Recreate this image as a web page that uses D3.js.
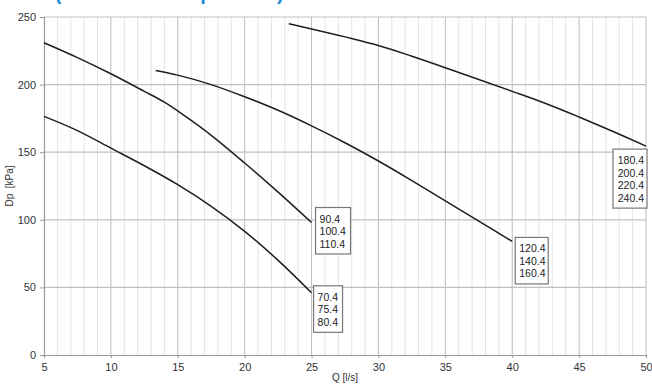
<!DOCTYPE html>
<html><head><meta charset="utf-8">
<script src="https://cdn.jsdelivr.net/npm/d3@7"></script>
<style>
html,body{margin:0;padding:0;background:#fff;}
svg{display:block;font-family:"Liberation Sans",Arial,sans-serif;}
</style></head>
<body>
<svg id="c" width="652" height="385"></svg>
<script>
// ---- data ----
const titleText = "UTN (Prevalenza disponibile)";
const xTicks = [5,10,15,20,25,30,35,40,45,50];
const yTicks = [0,50,100,150,200,250];
const xLabel = "Q [l/s]";
const yLabel = "Dp  [kPa]";

const curveA_Q  = [5, 7.5, 10, 12.5, 15, 17.5, 20, 22.5, 25];
const curveA_Dp = [176.5, 166, 153, 140, 126, 110, 91.5, 70, 46];
const curveA_labels = ["70.4","75.4","80.4"];

const curveB_Q  = [5, 7.5, 10, 12.5, 14, 15.5, 17.5, 20, 22.5, 25];
const curveB_Dp = [231, 220, 208, 195, 187, 177, 162.5, 142, 120.5, 98];
const curveB_labels = ["90.4","100.4","110.4"];

const curveC_Q  = [13.35, 15, 17.5, 20, 22.5, 25, 27.5, 30, 32.5, 35, 37.5, 40];
const curveC_Dp = [210.5, 207, 200, 191, 181, 169.5, 157, 143.5, 129, 114, 99, 84];
const curveC_labels = ["120.4","140.4","160.4"];

const curveD_Q  = [23.3, 25, 27.5, 30, 32.5, 35, 37.5, 40, 42.5, 45, 47.5, 50];
const curveD_Dp = [245, 241.2, 235.3, 228.9, 221, 212.5, 203.8, 195, 186, 176, 165.5, 154.5];
const curveD_labels = ["180.4","200.4","220.4","240.4"];

// ---- chart ----
const svg = d3.select("#c");
const M = {l:44, r:646, t:17, b:355};
const x = d3.scaleLinear().domain([5,50]).range([M.l, M.r]);
const y = d3.scaleLinear().domain([0,250]).range([M.b, M.t]);

svg.append("text").attr("x",8).attr("y",0)
  .attr("font-size",20).attr("font-weight","bold").attr("fill","#1b8ad3")
  .text(titleText);

// minor vertical grid
const minor = d3.range(6,50).filter(v=>v%5!==0);
svg.append("g").selectAll("line").data(minor).join("line")
  .attr("x1",d=>x(d)).attr("x2",d=>x(d)).attr("y1",M.t).attr("y2",M.b)
  .attr("stroke","#e3e3e3").attr("stroke-width",1);
// major vertical grid
svg.append("g").selectAll("line").data(xTicks.slice(1)).join("line")
  .attr("x1",d=>x(d)).attr("x2",d=>x(d)).attr("y1",M.t).attr("y2",M.b)
  .attr("stroke","#bdbdbd").attr("stroke-width",1);
// horizontal grid
svg.append("g").selectAll("line").data(yTicks.slice(1)).join("line")
  .attr("x1",M.l).attr("x2",M.r).attr("y1",d=>y(d)).attr("y2",d=>y(d))
  .attr("stroke","#c0c0c0").attr("stroke-width",1.2);

// axes
const xAxis = d3.axisBottom(x).tickValues(xTicks).tickSize(3).tickFormat(d3.format("d"));
const gx = svg.append("g").attr("transform",`translate(0,${M.b})`).call(xAxis);
const yAxis = d3.axisLeft(y).tickValues(yTicks).tickSize(4).tickFormat(d3.format("d"));
const gy = svg.append("g").attr("transform",`translate(${M.l},0)`).call(yAxis);
[gx,gy].forEach(g=>{
  g.select(".domain").attr("stroke","#999").attr("stroke-width",1.2);
  g.selectAll(".tick line").attr("stroke","#999");
  g.selectAll(".tick text").attr("fill","#333").attr("font-size",11)
   .attr("font-family","'Liberation Sans',Arial,sans-serif");
});
gx.selectAll(".tick text").attr("dy","0.9em");
gy.selectAll(".tick text").attr("dx","-1");

svg.append("text").attr("x",345).attr("y",381).attr("text-anchor","middle")
  .attr("font-size",10).attr("fill","#333").text(xLabel);
svg.append("text").attr("transform",`translate(13,${y(125)}) rotate(-90)`)
  .attr("text-anchor","middle").attr("font-size",10).attr("fill","#333")
  .attr("xml:space","preserve").style("white-space","pre").text(yLabel);

// curves
const line = d3.line().x(d=>x(d[0])).y(d=>y(d[1])).curve(d3.curveCatmullRom.alpha(0.5));
const curves = [
  {Q:curveA_Q, Dp:curveA_Dp, labels:curveA_labels, align:"start"},
  {Q:curveB_Q, Dp:curveB_Dp, labels:curveB_labels, align:"start"},
  {Q:curveC_Q, Dp:curveC_Dp, labels:curveC_labels, align:"start"},
  {Q:curveD_Q, Dp:curveD_Dp, labels:curveD_labels, align:"end"}
];
curves.forEach(c=>{
  const pts = c.Q.map((q,i)=>[q,c.Dp[i]]);
  svg.append("path").datum(pts).attr("d",line)
    .attr("fill","none").attr("stroke","#1e1e1e").attr("stroke-width",1.5);
});

// label boxes
function box(c, bx, by, bw) {
  const lh = 12.5, bh = c.labels.length*lh + 9;
  const g = svg.append("g");
  g.append("rect").attr("x",bx).attr("y",by).attr("width",bw).attr("height",bh)
    .attr("fill","#fff").attr("stroke","#777").attr("stroke-width",1.2);
  g.selectAll("text").data(c.labels).join("text")
    .attr("x", c.align==="end" ? bx+bw-3 : bx+4)
    .attr("y",(d,i)=>by+15+i*lh)
    .attr("text-anchor", c.align==="end" ? "end" : "start")
    .attr("font-size",10.5).attr("fill","#222").text(d=>d);
}
const lastPt = c => [x(c.Q[c.Q.length-1]), y(c.Dp[c.Dp.length-1])];
let p;
p = lastPt(curves[0]); box(curves[0], p[0]+2, p[1]-7, 29);
p = lastPt(curves[1]); box(curves[1], p[0]+4, p[1]-15, 35);
p = lastPt(curves[2]); box(curves[2], p[0]+3, p[1]-4, 33);
p = lastPt(curves[3]); box(curves[3], p[0]-33, p[1]+3, 34);
</script>
</body></html>
